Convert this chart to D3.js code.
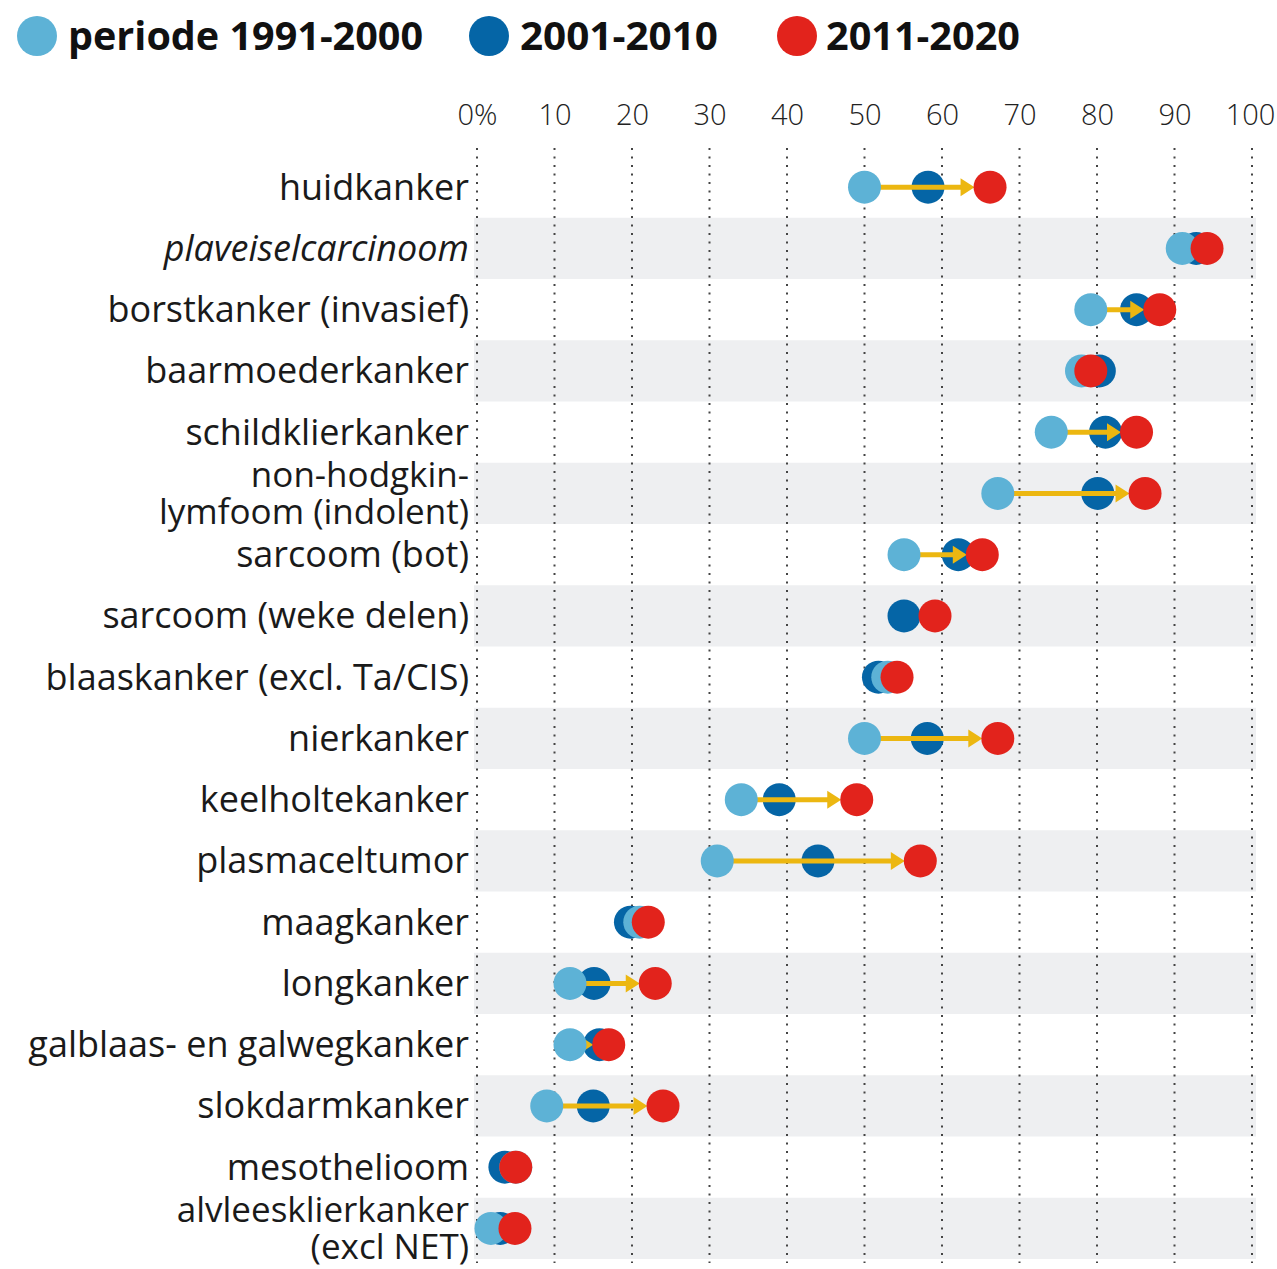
<!DOCTYPE html>
<html><head><meta charset="utf-8">
<script src="https://cdn.jsdelivr.net/npm/d3@7"></script>
<style>body{margin:0;background:#fff}svg{display:block}</style>
</head><body>
<svg id="c" width="1277" height="1269"></svg>
<script>
const categories = ["huidkanker","plaveiselcarcinoom","borstkanker (invasief)","baarmoederkanker","schildklierkanker","non-hodgkin-\nlymfoom (indolent)","sarcoom (bot)","sarcoom (weke delen)","blaaskanker (excl. Ta/CIS)","nierkanker","keelholtekanker","plasmaceltumor","maagkanker","longkanker","galblaas- en galwegkanker","slokdarmkanker","mesothelioom","alvleesklierkanker\n(excl NET)"];
const italicCats = ["plaveiselcarcinoom"];
const p1991_2000 = [50,91,79.2,78,74.1,67.2,55.1,null,53,50,34.1,31,21,12,12,9,5,1.8];
const p2001_2010 = [58.2,92.8,85.1,80.3,81.1,80.1,62.1,55.1,51.8,58.1,39,44,19.8,15.1,15.8,15,3.6,3];
const p2011_2020 = [66.2,94.2,88.1,79.2,85.1,86.2,65.2,59.1,54.2,67.2,49,57.2,22.1,23,17,24,5,4.9];
const tickValues = [0,10,20,30,40,50,60,70,80,90,100];
const tickLabels = ["0%","10","20","30","40","50","60","70","80","90","100"];
const legendLabels = ["periode 1991-2000","2001-2010","2011-2020"];
const colors = {light:"#5db2d6", dark:"#0565a6", red:"#e2231c", arrow:"#ecb711", band:"#eeeff1"};

const svg = d3.select("#c");
const font = "'Open Sans', 'Noto Sans', sans-serif";
const x = d3.scaleLinear().domain([0,100]).range([477,1252]);
const y = d3.scaleBand().domain(categories).range([156.5,1259]).padding(0);
const R = 16.5;

// bands
svg.append("g").selectAll("rect").data(categories.filter((d,i)=>i%2===1)).join("rect")
  .attr("x",474).attr("width",1256-474).attr("y",d=>y(d)).attr("height",y.bandwidth())
  .attr("fill",colors.band);

// grid + axis labels
const ax = d3.axisTop(x).tickValues(tickValues).tickFormat((d,i)=>tickLabels[i]).tickSize(0).tickPadding(0);
const gA = svg.append("g").attr("transform","translate(0,125)").call(ax);
gA.select(".domain").remove();
gA.selectAll("text").attr("font-family",font).attr("font-weight",300).attr("font-size",29).attr("fill","#222");
gA.selectAll(".tick").filter(d=>d===100).select("text").attr("dx",-2);
svg.append("g").selectAll("line").data(tickValues).join("line")
  .attr("x1",d=>x(d)).attr("x2",d=>x(d)).attr("y1",148).attr("y2",1263)
  .attr("stroke","#444").attr("stroke-width",2).attr("stroke-dasharray","2,6.5");

// row labels
const lab = svg.append("g").selectAll("text").data(categories).join("text")
  .attr("x",469).attr("text-anchor","end")
  .attr("font-family",font).attr("font-size",d=>d.includes("\n")?35:36).attr("fill","#1a1a1a")
  .attr("font-style",d=>italicCats.includes(d)?"italic":"normal");
lab.each(function(d){
  const lines = d.split("\n");
  const cy = y(d)+y.bandwidth()/2;
  const t = d3.select(this);
  lines.forEach((l,i)=>{
    t.append("tspan").attr("x",469).attr("y",cy + (i-(lines.length-1)/2)*37).attr("dy","0.35em").text(l);
  });
});

const rows = categories.map((c,i)=>({c, a:p1991_2000[i], b:p2001_2010[i], r:p2011_2020[i]}));
const cy = d=>y(d.c)+y.bandwidth()/2;
const g = svg.append("g");
// dark circles
g.selectAll(".dk").data(rows).join("circle").attr("class","dk")
  .attr("cx",d=>x(d.b)).attr("cy",cy).attr("r",R).attr("fill",colors.dark);
// arrows
rows.forEach(d=>{
  const start = d.a!=null ? x(d.a) : x(d.b);
  const tip = x(d.r)-R+1;
  const head = 14;
  if (tip-start < head+4) return;
  const yy = cy(d);
  g.append("line").attr("x1",start).attr("x2",tip-head+1).attr("y1",yy).attr("y2",yy)
    .attr("stroke",colors.arrow).attr("stroke-width",5);
  g.append("path").attr("d",`M${tip-head},${yy-9}L${tip},${yy}L${tip-head},${yy+9}Z`).attr("fill",colors.arrow);
});
g.selectAll(".lt").data(rows.filter(d=>d.a!=null)).join("circle").attr("class","lt")
  .attr("cx",d=>x(d.a)).attr("cy",cy).attr("r",R).attr("fill",colors.light);
g.selectAll(".rd").data(rows).join("circle").attr("class","rd")
  .attr("cx",d=>x(d.r)).attr("cy",cy).attr("r",R).attr("fill",colors.red);

// legend
const leg = [{x:37,c:colors.light,tx:68,w:355},{x:489,c:colors.dark,tx:520,w:198},{x:797,c:colors.red,tx:826,w:194}];
const lg = svg.append("g");
leg.forEach((l,i)=>{
  lg.append("circle").attr("cx",l.x).attr("cy",36).attr("r",20).attr("fill",l.c);
  lg.append("text").attr("x",l.tx).attr("y",36).attr("dy","0.35em")
    .attr("font-family",font).attr("font-weight",700).attr("font-size",39).attr("fill","#111")
    .attr("textLength",l.w).attr("lengthAdjust","spacingAndGlyphs")
    .text(legendLabels[i]);
});
</script>
</body></html>
